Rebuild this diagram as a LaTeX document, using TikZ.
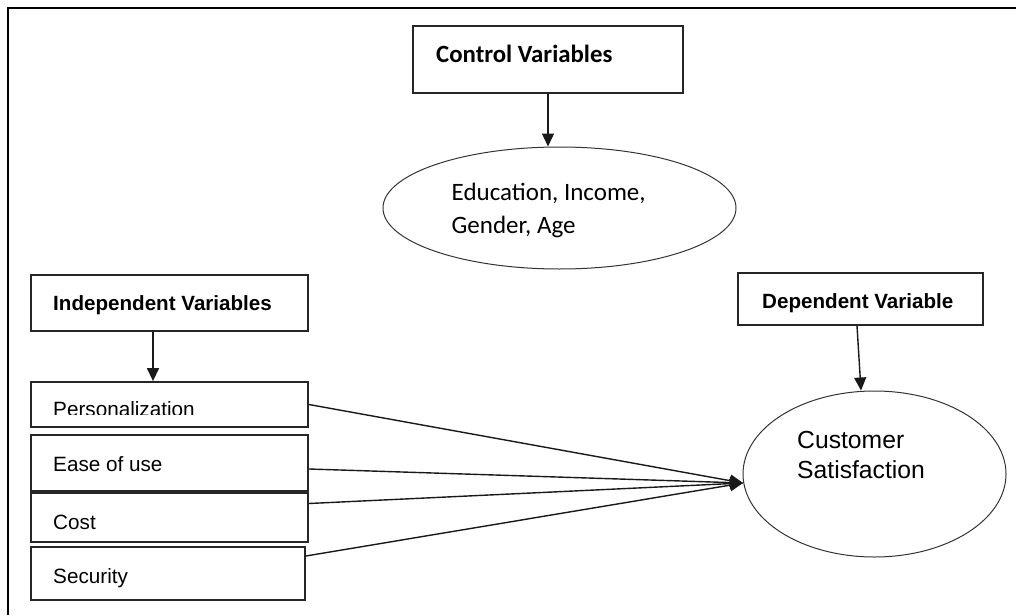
\documentclass[tikz,border=0pt]{standalone}
\usepackage{fontspec}
\newfontfamily\calfont{Carlito}
\newfontfamily\arifont{Liberation Sans}
\usetikzlibrary{arrows.meta,shapes.geometric}
\begin{document}
\begin{tikzpicture}[x=1pt,y=-1pt,
  frame/.style={draw=black,line width=1.6pt},
  varbox/.style={draw=black!85,line width=1.8pt,inner sep=0pt},
  oval/.style={draw=black!80,line width=1pt,ellipse,inner sep=0pt},
  arr/.style={draw=black!90,line width=1.4pt,-{Triangle[length=13pt,width=12pt]}},
  txt/.style={anchor=base west,inner sep=0pt},
  calb/.style={font=\calfont\bfseries\fontsize{24.8}{28}\selectfont},
  calr/.style={font=\calfont\fontsize{25}{32.5}\selectfont},
  arib/.style={font=\arifont\bfseries\fontsize{20.6}{24}\selectfont},
  arir/.style={font=\arifont\fontsize{20.7}{24}\selectfont},
  aribig/.style={font=\arifont\fontsize{24.7}{30}\selectfont}]
\useasboundingbox (0,0) rectangle (1016,615);
% outer frame (top and left sides)
\coordinate (fa) at (1016,8);
\coordinate (fb) at (8,8);
\coordinate (fc) at (8,615);
\draw[frame] (fa) -- (fb) -- (fc);

% control variables
\node[varbox,minimum width=270pt,minimum height=67pt] (ctl) at (548,59.5) {};
\node[txt,calb] (ctltxt) at (436,63) {Control Variables};
\node[oval,minimum width=353pt,minimum height=122pt] (edu) at (559.5,208) {};
\node[txt,calr] (edutxt1) at (451.5,200.5) {Education, Income,};
\node[txt,calr] (edutxt2) at (451.5,233) {Gender, Age};
\draw[arr] (ctl.south) -- (ctl.south |- edu.north);

% independent variables
\node[varbox,minimum width=277pt,minimum height=56pt] (iv) at (169.5,303) {};
\node[txt,arib] (ivtxt) at (53,310) {Independent Variables};
\node[varbox,minimum width=277pt,minimum height=45pt] (pers) at (169.5,404.5) {};
\node[varbox,minimum width=277pt,minimum height=56pt] (ease) at (169.5,463) {};
\node[varbox,minimum width=277pt,minimum height=49pt] (cost) at (169.5,517.5) {};
\node[varbox,minimum width=274pt,minimum height=53pt] (sec) at (168,573.5) {};
\begin{scope}
  \clip (31,382) rectangle (308,414.5);
  \node[txt,arir] (perstxt) at (53,416) {Personalization};
\end{scope}
\node[txt,arir] (easetxt) at (53,471) {Ease of use};
\node[txt,arir] (costtxt) at (53,529) {Cost};
\node[txt,arir] (sectxt) at (53,583) {Security};
\coordinate (ivs) at ([xshift=-16.5pt]iv.south);
\draw[arr] (ivs) -- (ivs |- pers.north);

% dependent variable
\node[varbox,minimum width=245pt,minimum height=52pt] (dv) at (860.5,299) {};
\node[txt,arib] (dvtxt) at (762,308.5) {Dependent Variable};
\node[oval,minimum width=263pt,minimum height=166pt] (cs) at (874.5,474) {};
\node[txt,aribig] (cstxt1) at (797,448.5) {Customer};
\node[txt,aribig] (cstxt2) at (797,478.5) {Satisfaction};
\draw[arr] ([xshift=-3.5pt]dv.south) -- ([xshift=-13.5pt]cs.north);

% connectors to customer satisfaction
\coordinate (tip) at (743,483);
\draw[arr] (pers.east) -- (tip);
\draw[arr] ([yshift=-6pt]ease.east) -- (tip);
\draw[arr] ([yshift=14pt]cost.east) -- (tip);
\draw[arr] ([yshift=17.5pt]sec.east) -- (tip);
\end{tikzpicture}
\end{document}
